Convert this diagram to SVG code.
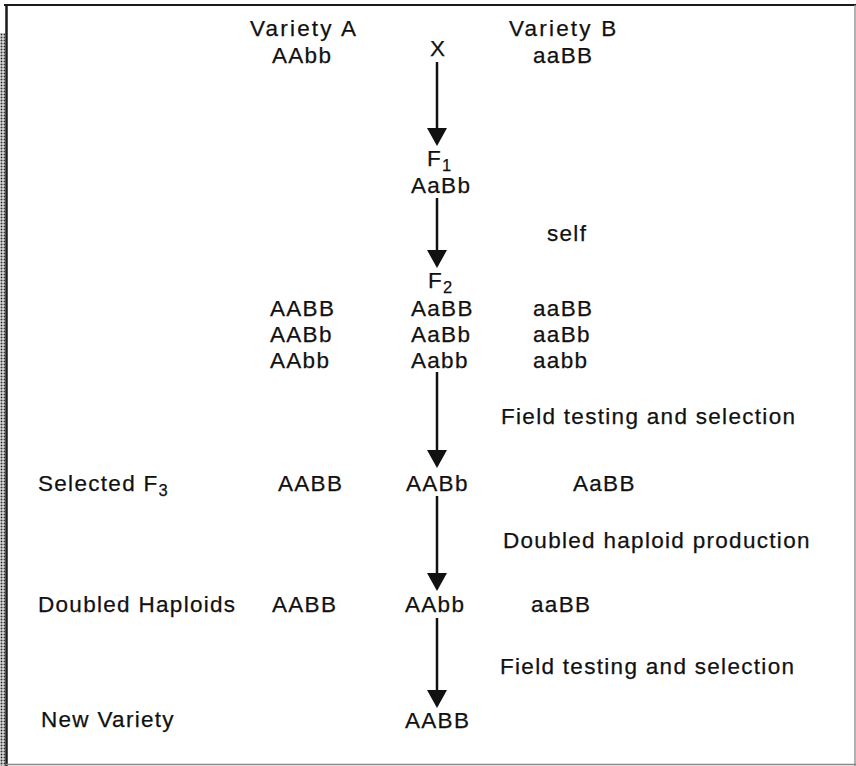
<svg xmlns="http://www.w3.org/2000/svg" width="856" height="766" viewBox="0 0 856 766">
<defs>
<style>
text{font-family:"Liberation Sans",Arial,sans-serif;font-size:22.5px;fill:#111;stroke:#111;stroke-width:0.25;letter-spacing:1.3px}
.sub{font-size:16.5px}
.wide{letter-spacing:2.2px}
.shaft{stroke:#111;stroke-width:2.5;fill:none}
.head{fill:#111}
</style>
<pattern id="dots" width="3" height="3" patternUnits="userSpaceOnUse">
<rect width="3" height="3" fill="#ddd"/>
<circle cx="1.5" cy="1.5" r="1" fill="#333"/>
</pattern>
</defs>
<rect width="856" height="766" fill="#fff"/>
<g id="frame">
<rect x="0" y="33" width="5" height="733" fill="url(#dots)"/>
<line x1="4" y1="5" x2="856" y2="5" stroke="#1a1a1a" stroke-width="2.2"/>
<line x1="6.5" y1="4" x2="6.5" y2="766" stroke="#1a1a1a" stroke-width="2.5"/>
<line x1="855" y1="5" x2="855" y2="766" stroke="#999" stroke-width="1.5"/>
<line x1="6" y1="764.5" x2="856" y2="764.5" stroke="#888" stroke-width="1.5"/>
</g>
<g id="connectors">
<line class="shaft" x1="437" y1="62" x2="437" y2="130"/>
<polygon class="head" points="427,128 447,128 437,146"/>
<line class="shaft" x1="437" y1="198" x2="437" y2="252"/>
<polygon class="head" points="427,250 447,250 437,268"/>
<line class="shaft" x1="437" y1="372" x2="437" y2="452"/>
<polygon class="head" points="427,450 447,450 437,468"/>
<line class="shaft" x1="437" y1="496" x2="437" y2="575"/>
<polygon class="head" points="427,573 447,573 437,591"/>
<line class="shaft" x1="437" y1="618" x2="437" y2="692"/>
<polygon class="head" points="427,690 447,690 437,708"/>
</g>
<g id="parents">
<text class="wide" x="250" y="36">Variety A</text>
<text x="272" y="63">AAbb</text>
<text x="430" y="56">X</text>
<text class="wide" x="509" y="36">Variety B</text>
<text x="533" y="63">aaBB</text>
</g>
<g id="f1">
<text x="427" y="166">F<tspan class="sub" dy="5">1</tspan></text>
<text x="411" y="193">AaBb</text>
</g>
<g id="self-label"><text x="547" y="241">self</text></g>
<g id="f2">
<text x="428" y="288">F<tspan class="sub" dy="5">2</tspan></text>
<text x="270" y="316">AABB</text>
<text x="270" y="342">AABb</text>
<text x="270" y="368">AAbb</text>
<text x="411" y="316">AaBB</text>
<text x="411" y="342">AaBb</text>
<text x="411" y="368">Aabb</text>
<text x="533" y="316">aaBB</text>
<text x="533" y="342">aaBb</text>
<text x="533" y="368">aabb</text>
</g>
<g id="label-field1"><text x="501" y="424">Field testing and selection</text></g>
<g id="selected-f3">
<text x="38" y="491">Selected F<tspan class="sub" dy="5">3</tspan></text>
<text x="278" y="491">AABB</text>
<text x="406" y="491">AABb</text>
<text x="573" y="491">AaBB</text>
</g>
<g id="label-dh"><text x="503" y="548">Doubled haploid production</text></g>
<g id="doubled-haploids">
<text x="38" y="612">Doubled Haploids</text>
<text x="272" y="612">AABB</text>
<text x="405" y="612">AAbb</text>
<text x="531" y="612">aaBB</text>
</g>
<g id="label-field2"><text x="500" y="674">Field testing and selection</text></g>
<g id="new-variety">
<text x="41" y="727">New Variety</text>
<text x="405" y="728">AABB</text>
</g>
</svg>
